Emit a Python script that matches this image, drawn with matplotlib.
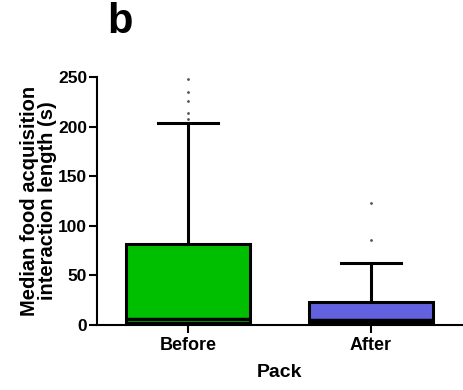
import matplotlib
matplotlib.use("Agg")
import matplotlib.pyplot as plt

plt.rcParams['font.family'] = ['Liberation Sans', 'DejaVu Sans']

categories = ["Before", "After"]
q1 = [2, 2]
median = [6, 5]
q3 = [82, 23]
whislo = [0, 0]
whishi = [204, 63]
outliers = [[208, 214, 226, 235, 248], [86, 123]]
colors = ["#00bf00", "#6262e0"]
yticks = [0, 50, 100, 150, 200, 250]

fig = plt.figure(figsize=(4.63, 3.90), dpi=100)
ax = fig.add_axes([97/463, 1-325/390, 365/463, 248/390])

stats = []
for i, c in enumerate(categories):
    stats.append(dict(label=c, q1=q1[i], med=median[i], q3=q3[i],
                      whislo=whislo[i], whishi=whishi[i], fliers=outliers[i]))

bp = ax.bxp(stats, positions=[0, 1], widths=0.68, patch_artist=True,
            showfliers=True,
            boxprops=dict(linewidth=2.2, edgecolor='black'),
            medianprops=dict(color='black', linewidth=2.5),
            whiskerprops=dict(color='black', linewidth=2.2),
            capprops=dict(color='black', linewidth=2.2),
            capwidths=0.33,
            flierprops=dict(marker='.', markersize=2.0, markerfacecolor='#555555',
                            markeredgecolor='#555555', linestyle='none'))
for patch, col in zip(bp['boxes'], colors):
    patch.set_facecolor(col)

ax.set_xlim(-0.5, 1.5)
ax.set_ylim(0, 250)
ax.set_yticks(yticks)
ax.set_xticks([0, 1])
ax.set_xticklabels(categories, fontsize=13, fontweight='bold')
for lab in ax.get_yticklabels():
    lab.set_fontsize(12.5)
    lab.set_fontweight('bold')
ax.spines['top'].set_visible(False)
ax.spines['right'].set_visible(False)
ax.spines['left'].set_linewidth(1.5)
ax.spines['bottom'].set_linewidth(1.5)
ax.tick_params(axis='y', width=1.5, length=6, pad=1)
ax.tick_params(axis='x', width=1.5, length=6, pad=3)
ax.set_ylabel("Median food acquisition\ninteraction length (s)", fontsize=14.5,
              fontweight='bold', linespacing=0.95, labelpad=1)
ax.set_xlabel("Pack", fontsize=14, fontweight='bold', labelpad=7)

fig.text(120/463, 1-22/390, "b", fontsize=30, fontweight='bold',
         ha='center', va='center')

fig.savefig("out.png", dpi=100)
